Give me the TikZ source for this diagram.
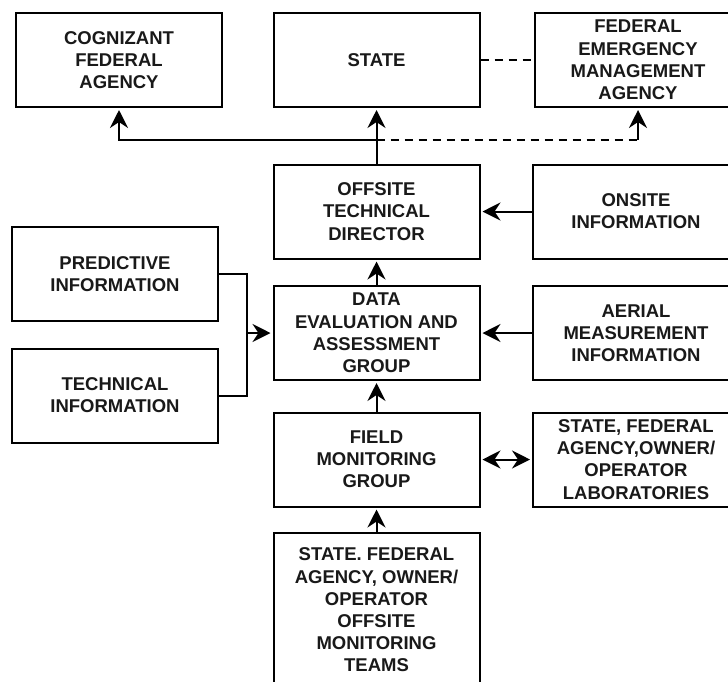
\documentclass[tikz,border=0pt]{standalone}
\usepackage{fontspec}
\setmainfont{Liberation Sans}
\usetikzlibrary{arrows.meta}
\tikzset{
  box/.style={draw, line width=2pt, minimum width=206pt, minimum height=94pt,
    inner sep=0pt, align=center, text=black!90,
    font=\fontsize{18.5}{22.2}\selectfont\bfseries},
  link/.style={line width=2pt},
  head/.tip={Stealth[length=18pt,width=18pt,inset=6pt]},
  tip/.style={-head, shorten >=2pt},
  twotips/.style={head-head, shorten >=2pt, shorten <=2pt},
  dashlink/.style={line width=2pt, dash pattern=on 8pt off 6pt},
}
\begin{document}
\begin{tikzpicture}[x=1pt,y=-1pt]
\clip (0,0) rectangle (728,681);
\fill[white] (0,0) rectangle (728,681);

% top row
\node[box] (cog)   at (119,60)   {COGNIZANT\\FEDERAL\\AGENCY};
\node[box] (state) at (376.5,60) {STATE};
\node[box] (fema)  at (638,60)   {FEDERAL\\EMERGENCY\\MANAGEMENT\\AGENCY};

% middle column and its feeders
\node[box] (otd)    at (376.5,211.5) {OFFSITE\\TECHNICAL\\DIRECTOR};
\node[box] (onsite) at (636,211.5)   {ONSITE\\INFORMATION};
\node[box] (pred)   at (115,274)     {PREDICTIVE\\INFORMATION};
\node[box] (data)   at (376.5,333)   {DATA\\EVALUATION AND\\ASSESSMENT\\GROUP};
\node[box] (aerial) at (636,333)     {AERIAL\\MEASUREMENT\\INFORMATION};
\node[box] (tech)   at (115,395.5)   {TECHNICAL\\INFORMATION};
\node[box] (field)  at (376.5,459.5) {FIELD\\MONITORING\\GROUP};
\node[box] (lab)    at (636,459.5)   {STATE, FEDERAL\\AGENCY,OWNER/\\OPERATOR\\LABORATORIES};
\node[box, minimum height=154pt] (teams) at (376.5,610)
  {STATE. FEDERAL\\AGENCY, OWNER/\\OPERATOR\\OFFSITE\\MONITORING\\TEAMS};

% distribution from the technical director upwards
\coordinate (jn) at (376.5,140);
\coordinate (fc) at (fema.south |- jn);
\draw[link,tip] (otd.north) -- (state.south);
\draw[link,tip] (jn) -| (cog.south);
\draw[dashlink] (jn) -- (fc);
\draw[link,tip] (fc) -- (fema.south);
\draw[dashlink] (state.east) -- (fema.west);

% information flows
\draw[link,tip] (onsite.west) -- (otd.east);
\draw[link,tip] (data.north) -- (otd.south);
\draw[link,tip] (aerial.west) -- (data.east);
\coordinate (mx) at ([xshift=-26pt]data.west);
\draw[link] (pred.east) -| (mx) |- (tech.east);
\draw[link,tip] (mx) -- (data.west);
\draw[link,tip] (field.north) -- (data.south);
\draw[link,twotips] (field.east) -- (lab.west);
\draw[link,tip] (teams.north) -- (field.south);
\end{tikzpicture}
\end{document}
